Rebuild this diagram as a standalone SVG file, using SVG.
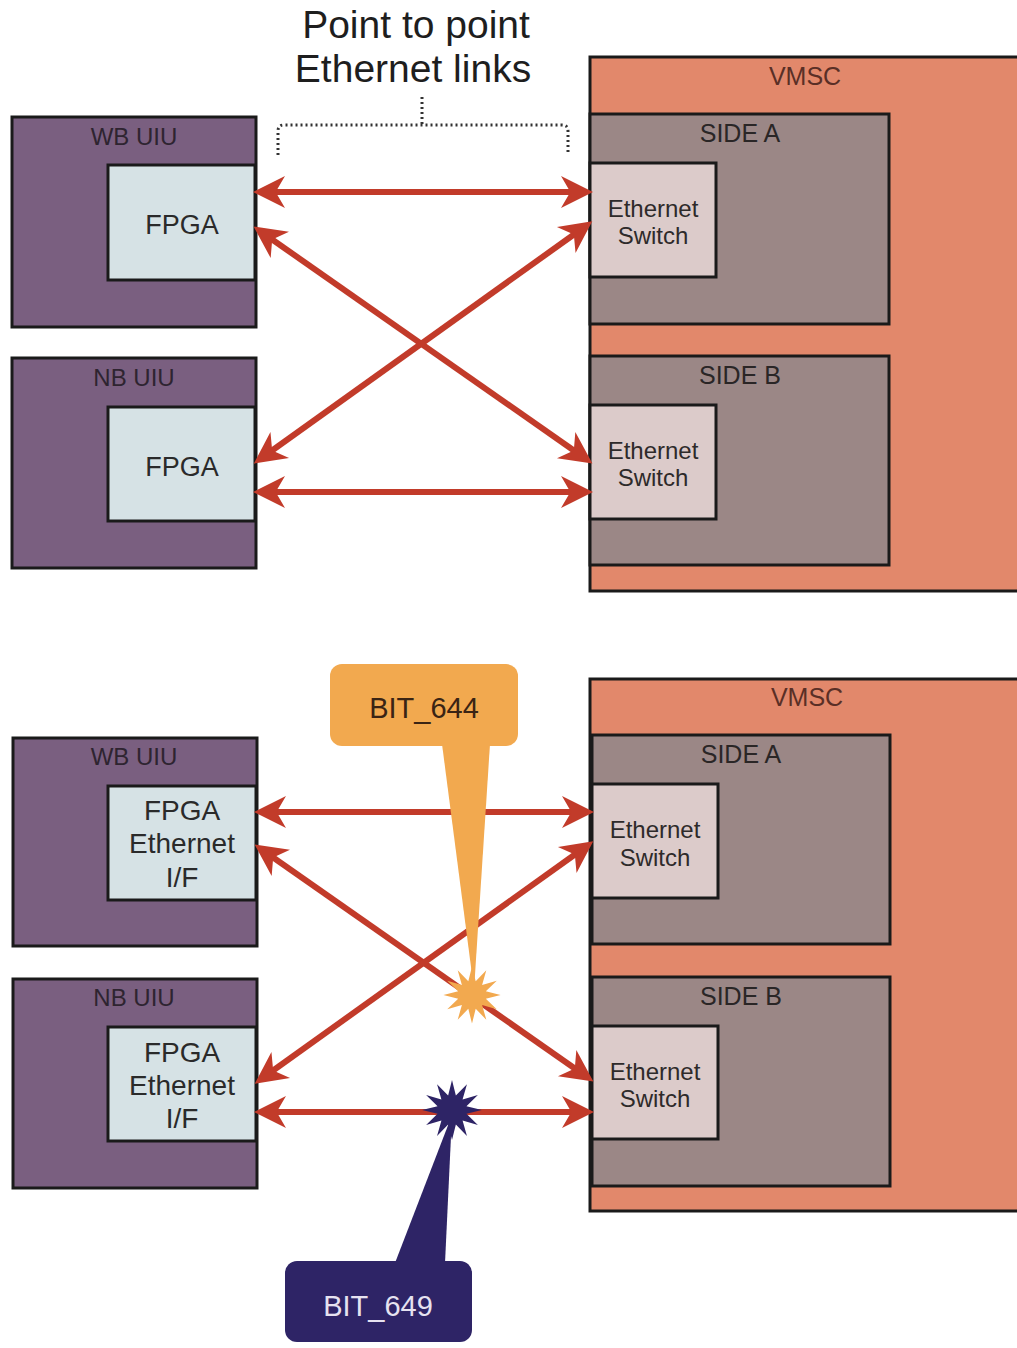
<svg xmlns="http://www.w3.org/2000/svg" width="1017" height="1348" viewBox="0 0 1017 1348">
<style>
text{font-family:"Liberation Sans",Arial,sans-serif;text-anchor:middle}
.uiu{fill:#7a5f80;stroke:#1a1a1a;stroke-width:3}
.fpga{fill:#d6e2e5;stroke:#1a1a1a;stroke-width:3}
.vmsc{fill:#e2886b;stroke:#1a1a1a;stroke-width:3}
.side{fill:#9b8786;stroke:#1a1a1a;stroke-width:3}
.sw{fill:#dccbca;stroke:#1a1a1a;stroke-width:3}
.lbl{font-size:24px;fill:#2e2430}
.side-l{font-size:25px;fill:#2a2626}
.in{font-size:27px;fill:#2a2a2a}
.in2{font-size:28px;fill:#2a2a2a}
.sm{font-size:24px;fill:#2e2a2a}
.link{stroke:#c23b2a;stroke-width:6;fill:none;marker-start:url(#ah);marker-end:url(#ah)}
.title{font-size:39px;fill:#1e1e1e}
</style>
<defs>
<marker id="ah" markerUnits="userSpaceOnUse" markerWidth="40" markerHeight="40" viewBox="-12 -15 30 30" refX="0" refY="0" orient="auto-start-reverse">
<path d="M15,0 L-9,-12 L-2,0 L-9,12 Z" fill="#c23b2a"/>
</marker>
<polygon id="star" points="26,0 12.56,3.36 22.5,13 9.19,9.19 13,22.5 3.36,12.56 0,26 -3.36,12.56 -13,22.5 -9.19,9.19 -22.5,13 -12.56,3.36 -26,0 -12.56,-3.36 -22.5,-13 -9.19,-9.19 -13,-22.5 -3.36,-12.56 0,-26 3.36,-12.56 13,-22.5 9.19,-9.19 22.5,-13 12.56,-3.36"/>
</defs>
<rect width="1017" height="1348" fill="#ffffff"/>

<!-- Title and bracket -->
<g id="title">
<text class="title" x="416" y="38">Point to point</text>
<text class="title" x="413" y="82">Ethernet links</text>
<path d="M278,155 L278,131 Q278,125 284,125 L562,125 Q568,125 568,131 L568,155 M422,97 L422,125" fill="none" stroke="#333" stroke-width="3" stroke-dasharray="2,3"/>
</g>

<!-- TOP DIAGRAM -->
<g id="vmsc-top">
<rect class="vmsc" x="590" y="57" width="432" height="534"/>
<text class="lbl" x="805" y="85" style="font-size:25px;fill:#5a2f26">VMSC</text>
</g>
<g id="sideA-top">
<rect class="side" x="590" y="114" width="299" height="210"/>
<text class="side-l" x="740" y="142">SIDE A</text>
</g>
<g id="swA-top">
<rect class="sw" x="590" y="163" width="126" height="114"/>
<text class="sm" x="653" y="217">Ethernet</text>
<text class="sm" x="653" y="244">Switch</text>
</g>
<g id="sideB-top">
<rect class="side" x="590" y="356" width="299" height="209"/>
<text class="side-l" x="740" y="384">SIDE B</text>
</g>
<g id="swB-top">
<rect class="sw" x="590" y="405" width="126" height="114"/>
<text class="sm" x="653" y="459">Ethernet</text>
<text class="sm" x="653" y="486">Switch</text>
</g>
<g id="wb-top">
<rect class="uiu" x="12" y="117" width="244" height="210"/>
<text class="lbl" x="134" y="145">WB UIU</text>
<rect class="fpga" x="108" y="165" width="147" height="115"/>
<text class="in" x="182" y="234">FPGA</text>
</g>
<g id="nb-top">
<rect class="uiu" x="12" y="358" width="244" height="210"/>
<text class="lbl" x="134" y="386">NB UIU</text>
<rect class="fpga" x="108" y="407" width="147" height="114"/>
<text class="in" x="182" y="476">FPGA</text>
</g>

<!-- BOTTOM DIAGRAM -->
<g id="vmsc-bot">
<rect class="vmsc" x="590" y="679" width="432" height="532"/>
<text class="lbl" x="807" y="706" style="font-size:25px;fill:#5a2f26">VMSC</text>
</g>
<g id="sideA-bot">
<rect class="side" x="592" y="735" width="298" height="209"/>
<text class="side-l" x="741" y="763">SIDE A</text>
</g>
<g id="swA-bot">
<rect class="sw" x="592" y="784" width="126" height="114"/>
<text class="sm" x="655" y="838">Ethernet</text>
<text class="sm" x="655" y="866">Switch</text>
</g>
<g id="sideB-bot">
<rect class="side" x="592" y="977" width="298" height="209"/>
<text class="side-l" x="741" y="1005">SIDE B</text>
</g>
<g id="swB-bot">
<rect class="sw" x="592" y="1026" width="126" height="113"/>
<text class="sm" x="655" y="1080">Ethernet</text>
<text class="sm" x="655" y="1107">Switch</text>
</g>
<g id="wb-bot">
<rect class="uiu" x="13" y="738" width="244" height="208"/>
<text class="lbl" x="134" y="765">WB UIU</text>
<rect class="fpga" x="108" y="786" width="148" height="114"/>
<text class="in2" x="182" y="820">FPGA</text>
<text class="in2" x="182" y="853">Ethernet</text>
<text class="in2" x="182" y="887">I/F</text>
</g>
<g id="nb-bot">
<rect class="uiu" x="13" y="979" width="244" height="209"/>
<text class="lbl" x="134" y="1006">NB UIU</text>
<rect class="fpga" x="108" y="1027" width="148" height="114"/>
<text class="in2" x="182" y="1062">FPGA</text>
<text class="in2" x="182" y="1095">Ethernet</text>
<text class="in2" x="182" y="1128">I/F</text>
</g>

<!-- Connectors -->
<g id="connectors">
<line class="link" x1="273" y1="192" x2="573" y2="192"/>
<line class="link" x1="270" y1="238" x2="576" y2="452"/>
<line class="link" x1="270" y1="452" x2="576" y2="233"/>
<line class="link" x1="273" y1="492" x2="573" y2="492"/>
<line class="link" x1="274" y1="812" x2="574" y2="812"/>
<line class="link" x1="271" y1="856" x2="577" y2="1070"/>
<line class="link" x1="271" y1="1072" x2="577" y2="853"/>
<line class="link" x1="274" y1="1112" x2="574" y2="1112"/>
</g>

<!-- Callouts -->
<g id="bit644">
<polygon points="442,744 490,744 474,990" fill="#f2a94f"/>
<use href="#star" transform="translate(472,995) scale(1.1)" fill="#f2a94f"/>
<rect x="330" y="664" width="188" height="82" rx="12" fill="#f2a94f"/>
<text x="424" y="718" style="font-size:29px;fill:#3a2414">BIT_644</text>
</g>
<g id="bit649">
<polygon points="395,1263 445,1263 452,1115" fill="#2e2466"/>
<use href="#star" transform="translate(452,1110) scale(1.15)" fill="#2e2466"/>
<rect x="285" y="1261" width="187" height="81" rx="12" fill="#2e2466"/>
<text x="378" y="1316" style="font-size:29px;fill:#e6e2f0">BIT_649</text>
</g>
</svg>
